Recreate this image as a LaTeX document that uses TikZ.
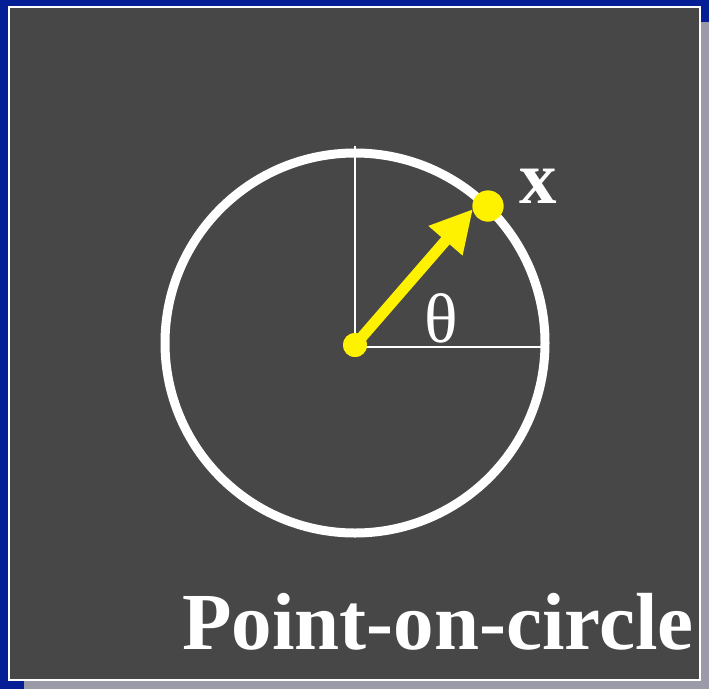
\documentclass[tikz,border=0pt]{standalone}
\usepackage{fontspec}
\setmainfont{Liberation Serif}
\usetikzlibrary{arrows.meta}
\definecolor{bgblue}{RGB}{4,30,150}
\definecolor{shadowgray}{RGB}{154,154,168}
\definecolor{panelgray}{RGB}{71,71,71}
\tikzset{
  thinline/.style={white, line width=2.5pt},
  dot/.style={circle, fill=yellow, inner sep=0pt},
  vecarrow/.style={yellow, line width=11pt, -{Triangle[length=42pt,width=42pt]}},
  lbl/.style={white, inner sep=0pt}
}
\begin{document}
\begin{tikzpicture}[x=1pt,y=-1pt]
\useasboundingbox (0,0) rectangle (709,689);
\fill[bgblue] (0,0) rectangle (709,689);
\fill[shadowgray] (24,22) rectangle (709,689);
\draw[white, line width=2pt, fill=panelgray] (9,7) rectangle (700,680);
% circle
\draw[white, line width=9pt] (355,343) circle (190pt);
% center and point
\node[dot, minimum size=24pt] (O) at (355,345) {};
\node[dot, minimum size=31pt] (P) at (488,206) {};
\coordinate (top) at (355,146);
\coordinate (right) at (542,347);
\coordinate (tip) at (473,209);
\draw[thinline] (355,347) -- (right);
\draw[thinline] (O.center) -- (top);
\node[dot, minimum size=24pt] at (O) {};
\draw[vecarrow] (O.center) -- (tip);
\node[dot, minimum size=31pt] at (P) {};
% labels
\node[lbl, font=\fontsize{75}{80}\selectfont\bfseries] (xl) at (538,186) {x};
\node[lbl, font=\fontsize{70}{80}\selectfont] (th) at (441,318) {θ};
\node[lbl, anchor=base, font=\fontsize{81}{90}\selectfont\bfseries] (title) at (438,649) {Point-on-circle};
\end{tikzpicture}
\end{document}
